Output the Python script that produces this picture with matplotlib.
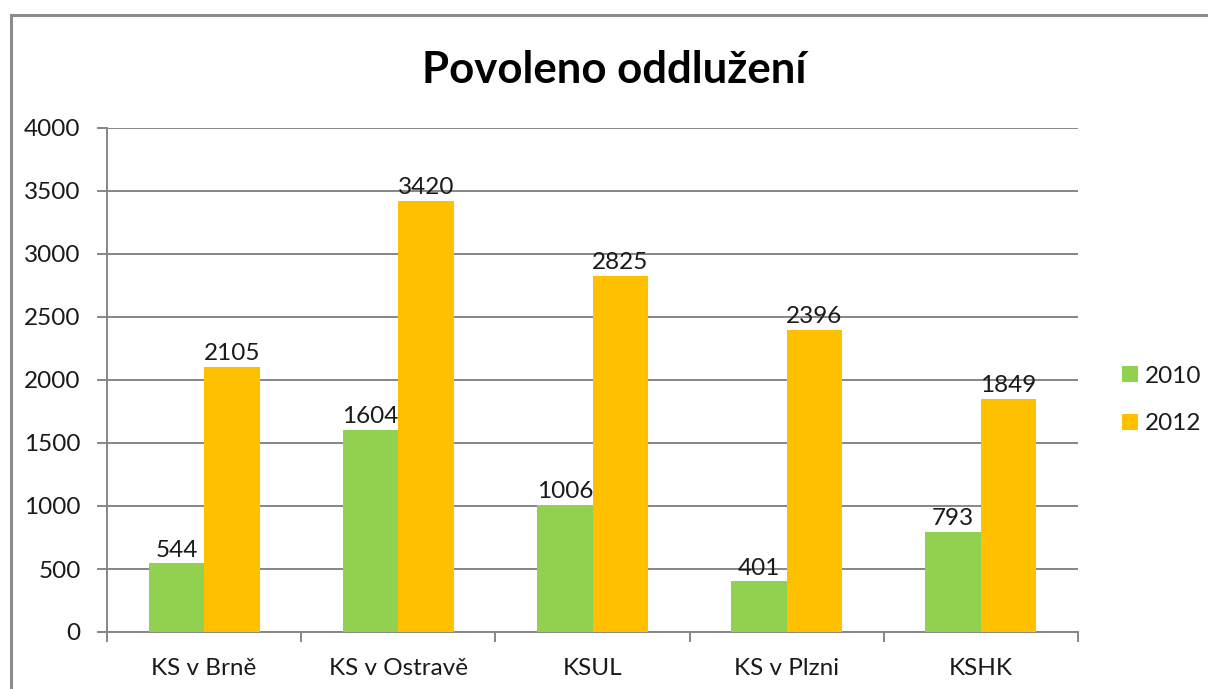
import matplotlib
matplotlib.use("Agg")
import matplotlib.pyplot as plt
import matplotlib.patches as mpatches
import numpy as np

# ── data ────────────────────────────────────────────────────────────────
categories = ["KS v Brně", "KS v Ostravě", "KSUL", "KS v Plzni", "KSHK"]
values_2010 = [544, 1604, 1006, 401, 793]
values_2012 = [2105, 3420, 2825, 2396, 1849]
series_labels = ["2010", "2012"]
yticks = [0, 500, 1000, 1500, 2000, 2500, 3000, 3500, 4000]

GREEN = "#92D050"
ORANGE = "#FFC000"
GRID = "#868686"
TEXT = "#1a1a1a"
FS = 17.5

plt.rcParams["font.family"] = ["Lato", "DejaVu Sans"]

fig = plt.figure(figsize=(12.08, 6.89), dpi=100)
fig.patch.set_facecolor("white")

# outer chart frame (right and bottom edges fall outside the picture)
frame = mpatches.Rectangle((11 / 1208, -0.1), 1.2, 1 - 15 / 689 + 0.1,
                           transform=fig.transFigure, fill=False,
                           edgecolor="#8c8c8c", linewidth=2.2, clip_on=False)
fig.patches.append(frame)

ax = fig.add_axes([107 / 1208, 1 - 632 / 689, (1078 - 107) / 1208, (632 - 128) / 689])

x = np.arange(len(categories))
w = 1 / 3.5
b1 = ax.bar(x - w / 2, values_2010, width=w, color=GREEN, label=series_labels[0], zorder=3)
b2 = ax.bar(x + w / 2, values_2012, width=w, color=ORANGE, label=series_labels[1], zorder=3)

for bars in (b1, b2):
    for rect in bars:
        ax.annotate(f"{int(rect.get_height())}",
                    (rect.get_x() + rect.get_width() / 2, rect.get_height()),
                    xytext=(0, 2), textcoords="offset points",
                    ha="center", va="bottom", fontsize=FS, color=TEXT)

ax.set_xlim(-0.5, len(categories) - 0.5)
ax.set_ylim(0, 4000)
ax.set_yticks(yticks)
ax.set_yticklabels([str(t) for t in yticks])
ax.yaxis.grid(True, color=GRID, linewidth=1.4, zorder=0)
ax.set_axisbelow(True)

# category labels centred, tick marks at group boundaries
ax.set_xticks(x)
ax.set_xticklabels(categories)
ax.tick_params(axis="x", length=0, pad=19, labelsize=FS, labelcolor=TEXT)
ax.set_xticks(np.arange(len(categories) + 1) - 0.5, minor=True)
ax.tick_params(axis="x", which="minor", length=7, width=1.4, color=GRID, direction="out")
ax.tick_params(axis="y", length=7, width=1.4, color=GRID, pad=12,
               labelsize=FS, labelcolor=TEXT)

for side in ("top", "right"):
    ax.spines[side].set_visible(False)
for side in ("left", "bottom"):
    ax.spines[side].set_color(GRID)
    ax.spines[side].set_linewidth(1.4)

fig.text(614 / 1208, 1 - 70 / 689, "Povoleno oddlužení", ha="center", va="center",
         fontsize=31.5, fontweight="bold", color="black")

leg = fig.legend(handles=[b1, b2], labels=series_labels, loc="center left",
                 bbox_to_anchor=(1100 / 1208, 1 - 400 / 689), frameon=False,
                 fontsize=FS, handlelength=0.65, handleheight=0.65,
                 handletextpad=0.3, labelspacing=1.1)
for t in leg.get_texts():
    t.set_color(TEXT)

fig.savefig("out.png", dpi=100, facecolor="white")
